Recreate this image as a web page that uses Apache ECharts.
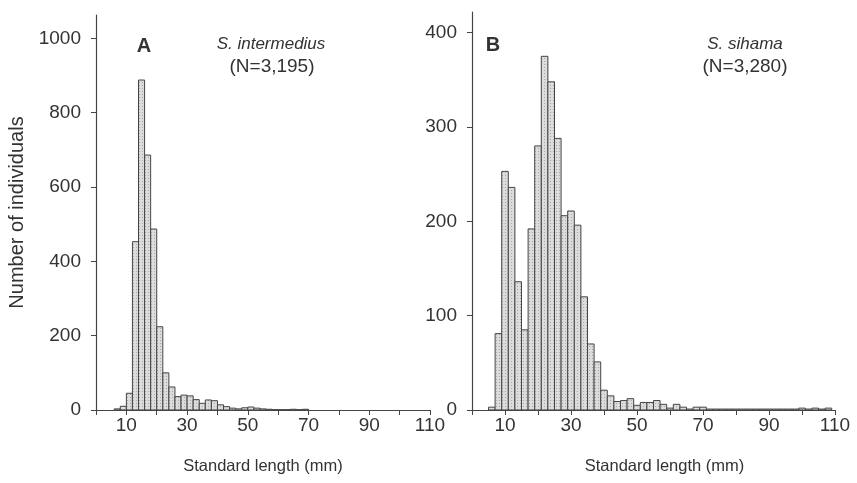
<!DOCTYPE html>
<html><head><meta charset="utf-8">
<script src="https://cdn.jsdelivr.net/npm/echarts@6/dist/echarts.min.js"></script>
<style>html,body{margin:0;padding:0;background:#fff}#c{width:857px;height:483px}</style>
</head><body><div id="c"></div>
<script>
// Histogram bins (mm), width 2 mm
const binWidth = 2;
const binStartsA = [6,8,10,12,14,16,18,20,22,24,26,28,30,32,34,36,38,40,42,44,46,48,50,52,54,56,58,60,62,64,66,68];
const countsA    = [3,10,45,453,888,686,487,224,100,62,36,40,38,28,18,27,25,14,9,5,3,6,8,5,3,2,1,1,1,2,1,2];
const binStartsB = [5,7,9,11,13,15,17,19,21,23,25,27,29,31,33,35,37,39,41,43,45,47,49,51,53,55,57,59,61,63,65,67,69,71,73,75,77,79,81,83,85,87,89,91,93,95,97,99,101,103,105,107];
const countsB    = [3,81,253,236,136,85,192,280,375,348,288,206,211,196,120,70,51,21,15,9,10,12,5,8,8,10,6,2,6,3,1,3,3,1,1,1,1,1,1,1,1,1,1,1,1,1,1,2,1,2,1,2];
const yTicksA = [0,200,400,600,800,1000];
const yTicksB = [0,100,200,300,400];
const xTicks = [0,10,20,30,40,50,60,70,80,90,100,110];
const xLabels = [10,30,50,70,90,110];
const speciesA = 'S. intermedius', nA = '(N=3,195)';
const speciesB = 'S. sihama', nB = '(N=3,280)';
const xTitle = 'Standard length (mm)';
const yTitle = 'Number of individuals';

const FONT = 'Liberation Sans, Arial, Helvetica, sans-serif';
const TXT = '#333';
const AX = '#454545';

// stippled fill pattern like the printed figure
const tile = document.createElement('canvas');
tile.width = 3; tile.height = 3;
(function(){
  const g = tile.getContext('2d');
  g.fillStyle = '#dcdcdc'; g.fillRect(0,0,3,3);
  g.fillStyle = '#a8a8a8'; g.fillRect(1,1,1,1);
})();
const stipple = {image: tile, repeat: 'repeat'};

function pairs(s, c){ return s.map((v,i)=>[v, c[i]]); }
function renderBar(params, api){
  const x0 = api.value(0), v = api.value(1);
  const p0 = api.coord([x0, 0]);
  const p1 = api.coord([x0 + binWidth, v]);
  return {type:'rect', shape:{x:p0[0], y:p1[1], width:p1[0]-p0[0], height:p0[1]-p1[1]},
    style:{fill:stipple, stroke:'#454545', lineWidth:1}};
}
function xAxisCfg(idx, pad){
  return {gridIndex:idx, type:'value', min:0, max:110, interval:10,
    name: xTitle, nameLocation:'middle', nameGap:48,
    nameTextStyle:{fontFamily:FONT, fontSize:16.5, color:TXT, padding:[0,0,0,pad]},
    axisLine:{show:true, lineStyle:{color:AX, width:1.2}},
    axisTick:{show:true, inside:false, length:5, customValues:xTicks, lineStyle:{color:AX}},
    axisLabel:{show:true, customValues:xLabels, margin:6, fontFamily:FONT, fontSize:19, color:TXT,
      formatter:v=>String(v)},
    splitLine:{show:false}};
}
function yAxisCfg(idx, max, ticks, withName){
  const c = {gridIndex:idx, type:'value', min:0, max:max,
    axisLine:{show:true, lineStyle:{color:AX, width:1.2}},
    axisTick:{show:true, inside:false, length:5, customValues:ticks, lineStyle:{color:AX}},
    axisLabel:{show:true, customValues:ticks, margin:15, fontFamily:FONT, fontSize:19, color:TXT,
      formatter:v=>String(v)},
    splitLine:{show:false}};
  if (withName){
    c.name = yTitle; c.nameLocation='middle'; c.nameGap=69; c.nameRotate=90;
    c.nameTextStyle = {fontFamily:FONT, fontSize:20, color:TXT};
  }
  return c;
}
const chart = echarts.init(document.getElementById('c'), null, {renderer:'canvas'});
chart.setOption({
  animation:false,
  backgroundColor:'#fff',
  grid:[
    {left:96, top:15, width:334, bottom:73},
    {left:472, top:12, width:363, bottom:73}
  ],
  xAxis:[xAxisCfg(0,0), xAxisCfg(1,22)],
  yAxis:[yAxisCfg(0,1063,yTicksA,true), yAxisCfg(1,422,yTicksB,false)],
  series:[
    {type:'custom', xAxisIndex:0, yAxisIndex:0, renderItem:renderBar, encode:{x:0,y:1}, data:pairs(binStartsA,countsA)},
    {type:'custom', xAxisIndex:1, yAxisIndex:1, renderItem:renderBar, encode:{x:0,y:1}, data:pairs(binStartsB,countsB)}
  ],
  graphic:[
    {type:'text', style:{x:144, y:46, text:'A', fontFamily:FONT, fontWeight:'bold', fontSize:20, fill:TXT, align:'center', verticalAlign:'middle'}},
    {type:'text', style:{x:271, y:44, text:speciesA, fontFamily:FONT, fontStyle:'italic', fontSize:17, fill:TXT, align:'center', verticalAlign:'middle'}},
    {type:'text', style:{x:272, y:67, text:nA, fontFamily:FONT, fontSize:19, fill:TXT, align:'center', verticalAlign:'middle'}},
    {type:'text', style:{x:493, y:45, text:'B', fontFamily:FONT, fontWeight:'bold', fontSize:20, fill:TXT, align:'center', verticalAlign:'middle'}},
    {type:'text', style:{x:745, y:44, text:speciesB, fontFamily:FONT, fontStyle:'italic', fontSize:17, fill:TXT, align:'center', verticalAlign:'middle'}},
    {type:'text', style:{x:745, y:67, text:nB, fontFamily:FONT, fontSize:19, fill:TXT, align:'center', verticalAlign:'middle'}}
  ]
});
</script></body></html>
